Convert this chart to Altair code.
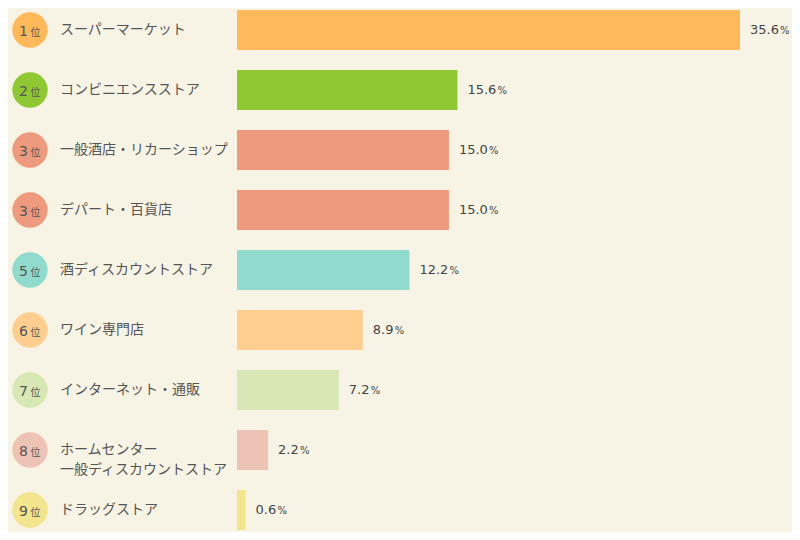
import altair as alt
import pandas as pd

ranks = [1, 2, 3, 3, 5, 6, 7, 8, 9]
labels = [
    "スーパーマーケット",
    "コンビニエンスストア",
    "一般酒店・リカーショップ",
    "デパート・百貨店",
    "酒ディスカウントストア",
    "ワイン専門店",
    "インターネット・通販",
    "ホームセンター\n一般ディスカウントストア",
    "ドラッグストア",
]
values = [35.6, 15.6, 15.0, 15.0, 12.2, 8.9, 7.2, 2.2, 0.6]
colors = ["#FFB85A", "#8FC832", "#EE9A7E", "#EE9A7E", "#90DACE",
          "#FDCE8F", "#D7E8B5", "#EDC3B5", "#F3E48E"]

rows = list(range(len(labels)))
df = pd.DataFrame({"row": rows, "rank": ranks, "label": labels, "value": values})
df["num"] = df["value"].map(lambda v: f"{v:.1f}")
df["unit"] = "位"
df["pct"] = "%"

JP = "Noto Sans CJK JP"
NUM = "DejaVu Sans"

y = alt.Y("row:O", axis=None,
          scale=alt.Scale(domain=rows, range=[-8, 532], paddingInner=0, paddingOuter=0))
x_scale = alt.Scale(domain=[0, 35.6], range=[229, 732])
color = alt.Color("row:O", scale=alt.Scale(domain=rows, range=colors), legend=None)

base = alt.Chart(df).encode(y=y)

bars = base.mark_bar(size=40, cornerRadius=0).encode(
    x=alt.X("value:Q", scale=x_scale, axis=None),
    x2=alt.datum(0),
    color=color,
)

circles = base.mark_circle(size=1257, opacity=1).encode(x=alt.value(22), color=color)

rank_num = base.mark_text(font=NUM, fontSize=14, align="right", baseline="alphabetic",
                          dy=6, color="#555555").encode(x=alt.value(20), text="rank:N")
rank_unit = base.mark_text(font=JP, fontSize=10, align="left", baseline="alphabetic",
                           dy=6, color="#555555").encode(x=alt.value(22.5), text="unit:N")

names = base.mark_text(font=JP, fontSize=14, align="left", baseline="middle",
                       lineBreak="\n", lineHeight=20, color="#555555").encode(
    x=alt.value(52), text="label:N")

num_text = base.mark_text(font=NUM, fontSize=13, align="left", baseline="middle",
                          dx=10, color="#444444").encode(
    x=alt.X("value:Q", scale=x_scale), text="num:N")

pct_long = base.mark_text(font=NUM, fontSize=10, align="left", baseline="middle",
                          dx=40, dy=1, color="#444444").encode(
    x=alt.X("value:Q", scale=x_scale), text="pct:N"
).transform_filter("length(datum.num) >= 4")

pct_short = base.mark_text(font=NUM, fontSize=10, align="left", baseline="middle",
                           dx=32, dy=1, color="#444444").encode(
    x=alt.X("value:Q", scale=x_scale), text="pct:N"
).transform_filter("length(datum.num) < 4")

chart = (
    alt.layer(bars, circles, rank_num, rank_unit, names, num_text, pct_long, pct_short)
    .properties(width=784, height=524, autosize=alt.AutoSizeParams(type="none"), padding=0)
    .configure(background="#F7F4E6")
    .configure_view(stroke=None)
)

chart.save("out.html", embed_options={"renderer": "svg", "actions": False})
